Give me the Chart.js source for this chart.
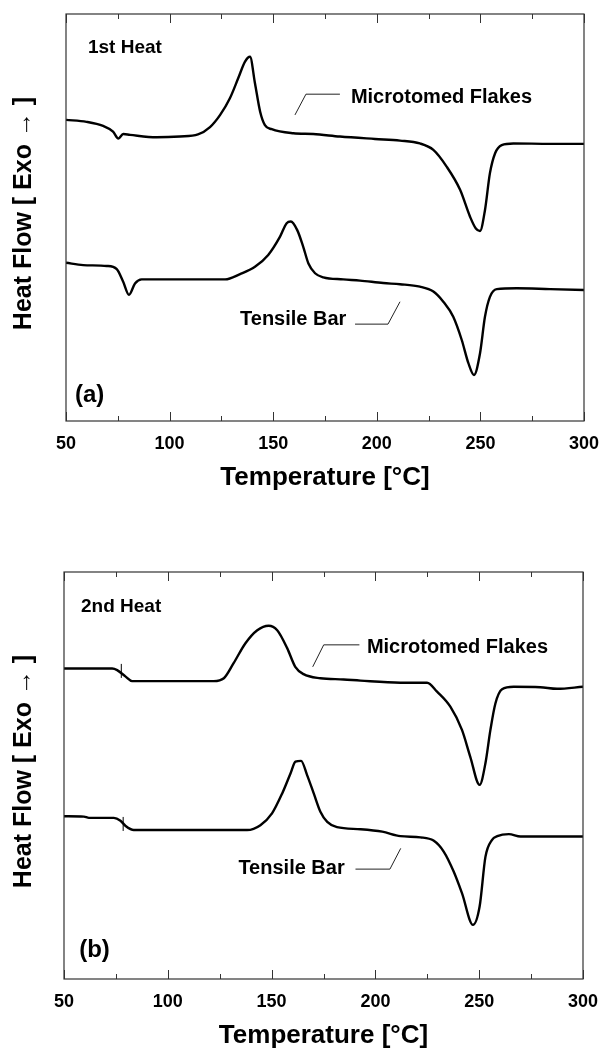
<!DOCTYPE html>
<html>
<head>
<meta charset="utf-8">
<script src="https://cdn.jsdelivr.net/npm/chart.js@4.4.1/dist/chart.umd.min.js"></script>
<style>
  body { margin: 0; background: #fff; width: 602px; height: 1051px; position: relative; overflow: hidden; }
  .panel { position: absolute; left: 0; }
</style>
</head>
<body>
<div class="panel" style="top:0"><canvas id="chart-a" width="602" height="520"></canvas></div>
<div class="panel" style="top:558px"><canvas id="chart-b" width="602" height="493"></canvas></div>
<script>
// temperatures in degC, heat flow in arbitrary units (exo up)
var tempsFlakes1 = [50, 59.9, 67.9, 72.7, 75.3, 77.6, 80.9, 93.7, 105.0, 113.7, 119.5, 124.4, 129.1, 133.1, 136.4, 138.8, 141.2, 143.7, 146.0, 149.3, 159.7, 169.3, 182.2, 199.1, 211.2, 220.8, 227.3, 233.7, 240.2, 245.0, 247.8, 249.8, 252.2, 254.6, 257.1, 260.3, 265.9, 283.6, 300];
var heatFlakes1 = [74.0, 73.5, 72.5, 71.1, 69.4, 70.5, 70.3, 69.7, 69.9, 70.4, 72.2, 75.2, 79.3, 84.2, 88.3, 89.5, 83.0, 76.0, 72.7, 71.7, 70.7, 70.5, 69.9, 69.3, 68.9, 68.2, 66.6, 62.5, 56.8, 50.2, 47.3, 46.7, 51.8, 60.9, 65.8, 67.8, 68.2, 68.1, 68.1];

var tempsBar1 = [50, 58.3, 69.7, 74.5, 77.6, 80.4, 83.3, 86.5, 103.4, 126.8, 134.0, 141.2, 147.6, 153.3, 156.5, 158.5, 161.6, 164.5, 167.0, 170.2, 174.2, 183.8, 191.9, 203.1, 211.2, 220.8, 227.3, 232.1, 236.9, 241.0, 244.2, 246.9, 249.8, 252.2, 254.6, 257.9, 267.5, 283.6, 300];
var heatBar1 = [38.9, 38.3, 38.1, 37.3, 34.2, 31.0, 33.8, 34.8, 34.8, 34.8, 36.1, 37.9, 40.8, 45.3, 48.6, 49.0, 46.9, 42.8, 38.7, 36.3, 35.3, 34.8, 34.5, 33.9, 33.6, 33.0, 31.8, 29.3, 25.6, 19.9, 14.2, 11.3, 16.6, 25.6, 30.5, 32.4, 32.6, 32.4, 32.2];

var tempsFlakes2 = [50, 73.2, 75.6, 79.7, 82.8, 122.1, 127.0, 131.7, 137.4, 143.1, 148.6, 152.7, 157.5, 161.4, 165.4, 173.5, 184.7, 192.8, 212.0, 224.9, 229.7, 236.1, 241.7, 245.7, 250.2, 253.0, 255.4, 257.8, 261.0, 266.6, 279.4, 287.5, 300];
var heatFlakes2 = [76.3, 76.3, 75.9, 74.3, 73.2, 73.2, 73.9, 77.6, 82.5, 85.7, 86.8, 85.7, 81.3, 76.7, 74.9, 73.9, 73.6, 73.3, 72.8, 72.8, 70.6, 66.9, 61.2, 54.6, 47.7, 53.0, 61.2, 67.7, 71.2, 71.8, 71.7, 71.3, 71.8];

var tempsBar2 = [50, 59.6, 62.0, 74.0, 77.2, 79.7, 83.6, 138.2, 144.6, 150.2, 155.1, 159.1, 161.5, 164.2, 167.1, 170.3, 173.5, 176.8, 181.5, 192.8, 203.3, 212.0, 221.7, 228.0, 232.9, 237.7, 241.7, 247.0, 250.2, 253.0, 256.2, 258.7, 264.3, 269.9, 300];
var heatBar2 = [40.0, 39.9, 39.6, 39.6, 38.9, 37.6, 36.6, 36.6, 37.8, 40.7, 45.6, 50.5, 53.4, 53.6, 50.1, 45.6, 41.1, 38.6, 37.3, 36.8, 36.2, 35.1, 34.8, 34.0, 31.3, 26.4, 21.1, 13.3, 17.8, 30.0, 34.2, 35.1, 35.6, 35.0, 35.0];

// glass transition marks on the 2nd heat curves
var tgTemps2 = [77.6, 78.5];
var tgHeat2 = [75.7, 38.1];

var majorTicks = [50, 100, 150, 200, 250, 300];
var minorTicks = [75, 125, 175, 225, 275];

var FONT = "'Liberation Sans', Arial, Helvetica, sans-serif";

function toPoints(xs, ys) {
  return xs.map(function (x, i) { return { x: x, y: ys[i] }; });
}

function curve(xs, ys) {
  return {
    data: toPoints(xs, ys),
    borderColor: '#000',
    borderWidth: 2.4,
    pointRadius: 0,
    cubicInterpolationMode: 'monotone',
    fill: false
  };
}

// frame, inward ticks, y title and the text labels with their leader lines
var framePlugin = {
  id: 'frame',
  afterDraw: function (chart) {
    var ctx = chart.ctx;
    var area = chart.chartArea;
    var xs = chart.scales.x;
    var ys = chart.scales.y;
    var opts = chart.options.plugins.frame;

    ctx.save();
    ctx.strokeStyle = '#333';
    ctx.lineWidth = 1.2;
    ctx.strokeRect(area.left, area.top, area.right - area.left, area.bottom - area.top);

    ctx.lineWidth = 1;
    function tick(v, len) {
      var px = Math.round(xs.getPixelForValue(v)) + 0.5;
      ctx.beginPath();
      ctx.moveTo(px, area.bottom);
      ctx.lineTo(px, area.bottom - len);
      ctx.moveTo(px, area.top);
      ctx.lineTo(px, area.top + len);
      ctx.stroke();
    }
    majorTicks.forEach(function (v) { tick(v, 9); });
    minorTicks.forEach(function (v) { tick(v, 5); });

    // y axis title
    ctx.fillStyle = '#000';
    ctx.font = 'bold 25px ' + FONT;
    ctx.textAlign = 'center';
    ctx.textBaseline = 'middle';
    ctx.translate(24, (area.top + area.bottom) / 2 - 4);
    ctx.rotate(-Math.PI / 2);
    ctx.fillText('Heat Flow [ Exo \u2192 ]', 0, 0);
    ctx.setTransform(1, 0, 0, 1, 0, 0);

    ctx.textAlign = 'left';
    ctx.textBaseline = 'alphabetic';
    opts.labels.forEach(function (lab) {
      ctx.font = 'bold ' + lab.size + 'px ' + FONT;
      ctx.fillText(lab.text, xs.getPixelForValue(lab.x), ys.getPixelForValue(lab.y));
    });

    ctx.strokeStyle = '#222';
    ctx.lineWidth = 1;
    opts.leaders.forEach(function (pts) {
      ctx.beginPath();
      pts.forEach(function (p, i) {
        var px = xs.getPixelForValue(p[0]);
        var py = ys.getPixelForValue(p[1]);
        if (i === 0) ctx.moveTo(px, py); else ctx.lineTo(px, py);
      });
      ctx.stroke();
    });
    ctx.restore();
  }
};

function createPanel(id, datasets, padding, bottomPad, frameOpts) {
  return new Chart(document.getElementById(id), {
    type: 'line',
    data: { datasets: datasets },
    options: {
      responsive: false,
      animation: false,
      layout: { padding: { left: padding[0], right: padding[1], top: 14, bottom: bottomPad } },
      plugins: { legend: { display: false }, tooltip: { enabled: false }, frame: frameOpts },
      scales: {
        x: {
          type: 'linear',
          min: 50,
          max: 300,
          afterFit: function (scale) {
            scale.height = 72;
            // let the end labels hang over the padding
            scale.paddingLeft = 0;
            scale.paddingRight = 0;
          },
          grid: { display: false, drawTicks: false },
          border: { display: false },
          ticks: {
            stepSize: 50,
            padding: 12,
            color: '#000',
            font: { family: FONT, size: 18, weight: 'bold' }
          },
          title: {
            display: true,
            text: 'Temperature [\u00B0C]',
            color: '#000',
            padding: { top: 0, bottom: 0 },
            font: { family: FONT, size: 26, weight: 'bold' }
          }
        },
        y: { display: false, min: 0, max: 100 }
      }
    },
    plugins: [framePlugin]
  });
}

createPanel('chart-a', [curve(tempsFlakes1, heatFlakes1), curve(tempsBar1, heatBar1)], [66, 18], 27, {
  labels: [
    { text: '1st Heat', x: 60.6, y: 90.4, size: 19 },
    { text: 'Microtomed Flakes', x: 187.5, y: 78.2, size: 20 },
    { text: 'Tensile Bar', x: 134.0, y: 23.6, size: 20 },
    { text: '(a)', x: 54.3, y: 4.7, size: 24 }
  ],
  leaders: [
    [[160.5, 75.2], [165.8, 80.3], [182.2, 80.3]],
    [[189.5, 23.8], [205.4, 23.8], [211.2, 29.3]]
  ]
});

var tgMarks = {
  type: 'scatter',
  data: toPoints(tgTemps2, tgHeat2),
  pointStyle: 'line',
  rotation: 90,
  pointRadius: 7,
  borderColor: '#000',
  borderWidth: 1,
  showLine: false
};

createPanel('chart-b', [curve(tempsFlakes2, heatFlakes2), curve(tempsBar2, heatBar2), tgMarks], [64, 19], 0, {
  labels: [
    { text: '2nd Heat', x: 58.2, y: 90.2, size: 19 },
    { text: 'Microtomed Flakes', x: 195.9, y: 80.0, size: 20 },
    { text: 'Tensile Bar', x: 134.0, y: 25.8, size: 20 },
    { text: '(b)', x: 57.3, y: 5.4, size: 24 }
  ],
  leaders: [
    [[169.8, 76.7], [175.1, 82.1], [192.3, 82.1]],
    [[190.4, 27.0], [207.0, 27.0], [212.2, 32.1]]
  ]
});
</script>
</body>
</html>
